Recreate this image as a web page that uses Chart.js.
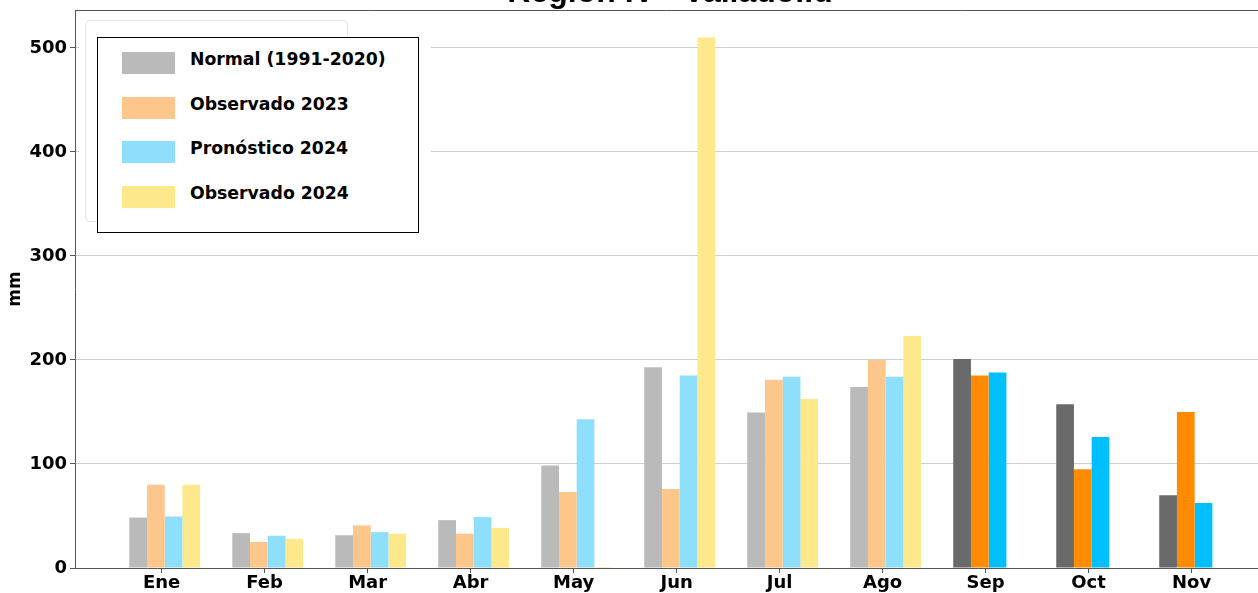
<!DOCTYPE html>
<html>
<head>
<meta charset="utf-8">
<script src="https://cdn.jsdelivr.net/npm/chart.js@4.4.0/dist/chart.umd.min.js"></script>
<style>
    html, body { margin: 0; padding: 0; background: #fff; }
    #wrap { position: relative; width: 1258px; height: 593px; overflow: hidden; }
    #chart { position: absolute; left: 0; top: 0; }
    #title {
        position: absolute; left: 0; width: 1340px; top: -27px; text-align: center;
        font: bold 32px "Liberation Sans", Arial, sans-serif; color: #000;
    }
    #legendBg { position: absolute; left: 79px; top: 14px; width: 352px; height: 226px; background: #fff; }
    #legendGhost {
        position: absolute; left: 85px; top: 20px; width: 261px; height: 200px;
        border: 1px solid #e4e4e4; border-radius: 5px;
    }
    #legend {
        position: absolute; left: 97px; top: 37px; width: 320px; height: 194px;
        border: 1px solid #000; background: #fff;
        font: bold 17.3px "DejaVu Sans", sans-serif; color: #000;
    }
    .item { position: absolute; left: 24px; height: 22px; line-height: 22px; }
    .swatch { position: absolute; left: 0; top: 0; width: 53px; height: 22px; }
    .label { position: absolute; left: 68px; top: -4px; white-space: nowrap; }
</style>
</head>
<body>
<div id="wrap">
    <canvas id="chart" width="1258" height="593"></canvas>
    <div id="title">Región IV - Valladolid</div>
    <div id="legendBg"></div>
    <div id="legendGhost"></div>
    <div id="legend"></div>
</div>
<script>
// Data (mm)
const months = ['Ene', 'Feb', 'Mar', 'Abr', 'May', 'Jun', 'Jul', 'Ago', 'Sep', 'Oct', 'Nov'];
const normal = [48.5, 33.5, 31.5, 46, 98.5, 193, 149.5, 174, 201, 157.5, 70];
const obs2023 = [80, 25, 41, 33, 73, 76, 181, 200, 185, 95, 150];
const pron2024 = [49.5, 31, 34.5, 49, 143, 185, 184, 184, 188, 126, 62.5];
const obs2024 = [80, 28, 33, 38.5, 1, 510, 162.5, 223, null, null, null];
const yTicks = [0, 100, 200, 300, 400, 500];
const seriesNames = ['Normal (1991-2020)', 'Observado 2023', 'Pronóstico 2024', 'Observado 2024'];

// first 8 months drawn pale, Sep-Nov drawn solid
const paleColors = ['#bababa', '#fdc78b', '#8ddffb', '#fde88b'];
const solidColors = ['#696969', '#ff8c00', '#00bfff', '#ffd700'];
const solidFrom = 8;

const series = [normal, obs2023, pron2024, obs2024];

const datasets = series.map((values, k) => ({
    label: seriesNames[k],
    data: values.map((v, i) => ({ x: i, y: v })),
    backgroundColor: ctx => ctx.dataIndex >= solidFrom ? solidColors[k] : paleColors[k],
    borderWidth: 0,
    categoryPercentage: 0.688,
    barPercentage: 1
}));

// legend overlay
const legendEl = document.getElementById('legend');
seriesNames.forEach((name, k) => {
    const item = document.createElement('div');
    item.className = 'item';
    item.style.top = (14 + k * 44.5) + 'px';
    item.innerHTML = '<div class="swatch" style="background:' + paleColors[k] + '"></div>' +
        '<div class="label">' + name + '</div>';
    legendEl.appendChild(item);
});

const topFrame = {
    id: 'topFrame',
    afterDraw(chart) {
        const { ctx, chartArea } = chart;
        ctx.save();
        ctx.strokeStyle = '#555';
        ctx.lineWidth = 1;
        ctx.beginPath();
        ctx.moveTo(chartArea.left, chartArea.top + 0.5);
        ctx.lineTo(chartArea.right, chartArea.top + 0.5);
        ctx.stroke();
        ctx.restore();
    }
};

const tickFont = { family: 'DejaVu Sans', size: 18, weight: 'bold' };

new Chart(document.getElementById('chart').getContext('2d'), {
    type: 'bar',
    data: { datasets: datasets },
    options: {
        responsive: false,
        animation: false,
        layout: { padding: { top: 10, right: 0, left: 0, bottom: 0 } },
        plugins: {
            legend: { display: false },
            tooltip: { enabled: false }
        },
        scales: {
            x: {
                type: 'linear',
                offset: false,
                min: -0.871,
                max: 10.615,
                afterBuildTicks: scale => {
                    scale.ticks = months.map((m, i) => ({ value: i - 0.03 }));
                },
                afterFit: scale => {
                    scale.height = 25;
                    scale.paddingLeft = 0;
                    scale.paddingRight = 0;
                },
                ticks: {
                    callback: (v, i) => months[i],
                    color: '#000',
                    font: tickFont,
                    padding: 0,
                    maxRotation: 0,
                    autoSkip: false
                },
                grid: { offset: false, drawOnChartArea: false, drawTicks: true, tickLength: 5, tickColor: '#555' },
                border: { color: '#555', width: 1 }
            },
            y: {
                min: 0,
                max: 536.5,
                afterBuildTicks: scale => {
                    scale.ticks = yTicks.map(v => ({ value: v }));
                },
                afterFit: scale => {
                    scale.width = 75;
                    scale.paddingTop = 0;
                    scale.paddingBottom = 0;
                },
                title: {
                    display: true,
                    text: 'mm',
                    color: '#000',
                    font: { family: 'DejaVu Sans', size: 17, weight: 'bold' },
                    padding: { top: 5, bottom: 0 }
                },
                ticks: {
                    color: '#000',
                    font: tickFont,
                    padding: 3
                },
                grid: { color: '#cfcfcf', lineWidth: 1, tickLength: 5, tickColor: '#555' },
                border: { color: '#555', width: 1 }
            }
        }
    },
    plugins: [topFrame]
});
</script>
</body>
</html>
